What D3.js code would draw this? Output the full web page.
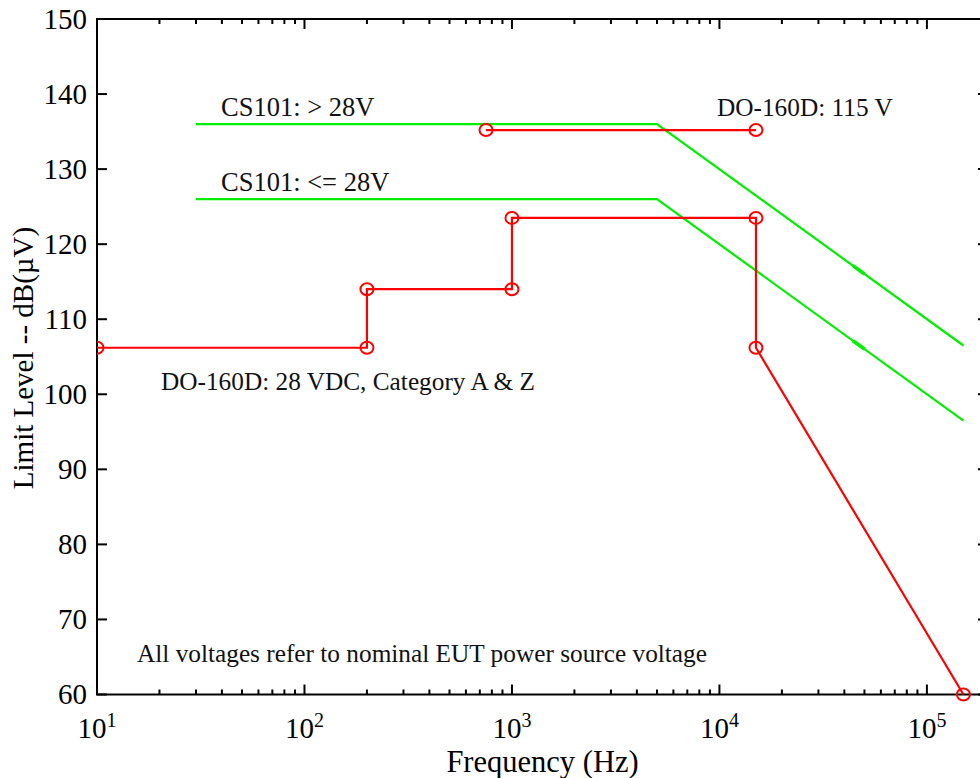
<!DOCTYPE html>
<html>
<head>
<meta charset="utf-8">
<script src="https://cdn.jsdelivr.net/npm/d3@7"></script>
<style>
  body { margin: 0; background: #fff; }
  svg { display: block; font-family: 'Liberation Serif', 'Times New Roman', serif; }
</style>
</head>
<body>
<div id="chart"></div>
<script>
// Limit curves (frequency in Hz, level in dB(uV))
const do28Freq = [10, 200, 200, 1000, 1000, 15000, 15000, 150000];
const do28Level = [106.2, 106.2, 114, 114, 123.5, 123.5, 106.2, 60];
const do115Freq = [750, 15000];
const do115Level = [135.2, 135.2];
const csHighFreq = [30, 5000, 150000];
const csHighLevel = [136, 136, 106.5];
const csLowFreq = [30, 5000, 150000];
const csLowLevel = [126, 126, 96.5];
const xTickExp = [1, 2, 3, 4, 5];
const yTicks = [60, 70, 80, 90, 100, 110, 120, 130, 140, 150];

const width = 980, height = 778;
const margin = { top: 19, right: -8, bottom: 83.5, left: 97 };

const svg = d3.select('#chart').append('svg')
    .attr('width', width)
    .attr('height', height);

// Scales
const xScale = d3.scaleLog()
    .domain([10, 1.97e5])
    .range([margin.left, width - margin.right]);
const yScale = d3.scaleLinear()
    .domain([60, 150])
    .range([height - margin.bottom, margin.top]);

const toPts = (fs, ls) => fs.map((f, i) => [f, ls[i]]);
const line = d3.line()
    .x(d => xScale(d[0]))
    .y(d => yScale(d[1]));

// Axes (frame with inward ticks)
const minorTicks = [];
for (let e = 1; e <= 5; e++) {
    for (let m = 2; m <= 9; m++) minorTicks.push(m * Math.pow(10, e));
}
const x0 = xScale.range()[0], x1 = xScale.range()[1];
const y0 = yScale.range()[0], y1 = yScale.range()[1];

const frame = svg.append('g').attr('stroke', '#000').attr('stroke-width', 2);
frame.append('rect')
    .attr('x', x0).attr('y', y1)
    .attr('width', x1 - x0).attr('height', y0 - y1)
    .attr('fill', 'none');

const xMajor = xTickExp.map(e => Math.pow(10, e));
// bottom & top ticks
[[y0, -1], [y1, 1]].forEach(([yy, dir]) => {
    frame.selectAll(null).data(xMajor).enter().append('line')
        .attr('x1', d => xScale(d)).attr('x2', d => xScale(d))
        .attr('y1', yy).attr('y2', yy + dir * 10);
    frame.selectAll(null).data(minorTicks.filter(d => xScale(d) < x1)).enter().append('line')
        .attr('x1', d => xScale(d)).attr('x2', d => xScale(d))
        .attr('y1', yy).attr('y2', yy + dir * 5);
});
// left & right ticks
[[x0, 1], [x1, -1]].forEach(([xx, dir]) => {
    frame.selectAll(null).data(yTicks).enter().append('line')
        .attr('x1', xx).attr('x2', xx + dir * 10)
        .attr('y1', d => yScale(d)).attr('y2', d => yScale(d));
});

// Tick labels
svg.append('g').selectAll('text')
    .data(yTicks).enter().append('text')
    .attr('x', x0 - 10)
    .attr('y', d => yScale(d))
    .attr('dy', '0.33em')
    .attr('text-anchor', 'end')
    .attr('font-size', 29)
    .text(d => d);

const xl = svg.append('g').selectAll('text')
    .data(xTickExp).enter().append('text')
    .attr('x', d => xScale(Math.pow(10, d)))
    .attr('y', 738)
    .attr('text-anchor', 'middle')
    .attr('font-size', 29);
xl.append('tspan').text('10');
xl.append('tspan').attr('font-size', 20).attr('dy', -11).text(d => d);

// Axis titles
svg.append('text')
    .attr('x', (x0 + x1) / 2)
    .attr('y', 772)
    .attr('text-anchor', 'middle')
    .attr('font-size', 30.5)
    .text('Frequency (Hz)');
svg.append('text')
    .attr('transform', 'translate(33,358) rotate(-90)')
    .attr('text-anchor', 'middle')
    .attr('font-size', 29)
    .text('Limit Level -- dB(\u00b5V)');

// Plot clip
svg.append('defs').append('clipPath').attr('id', 'clip')
    .append('rect').attr('x', x0).attr('y', y1 - 10)
    .attr('width', x1 - x0).attr('height', y0 - y1 + 20);
const plot = svg.append('g').attr('clip-path', 'url(#clip)');

// Green CS101 curves
[toPts(csHighFreq, csHighLevel), toPts(csLowFreq, csLowLevel)].forEach(pts => {
    plot.append('path')
        .datum(pts)
        .attr('d', line)
        .attr('fill', 'none')
        .attr('stroke', '#00ee00')
        .attr('stroke-width', 2.2);
    // small overlap joint on the sloped part
    const seg = pts.slice(1);
    const f0 = 44000, f1 = 50000;
    const lvl = f => seg[0][1] + (seg[1][1] - seg[0][1]) * Math.log10(f / seg[0][0]) / Math.log10(seg[1][0] / seg[0][0]);
    plot.append('path')
        .datum([[f0, lvl(f0)], [f1, lvl(f1)]])
        .attr('d', line)
        .attr('stroke', '#00ee00')
        .attr('stroke-width', 3.6);
});

// Red DO-160D curves
[toPts(do28Freq, do28Level), toPts(do115Freq, do115Level)].forEach(pts => {
    plot.append('path')
        .datum(pts)
        .attr('d', line)
        .attr('fill', 'none')
        .attr('stroke', '#ff0000')
        .attr('stroke-width', 2.2);
    plot.selectAll(null)
        .data(pts).enter().append('ellipse')
        .attr('cx', d => xScale(d[0]))
        .attr('cy', d => yScale(d[1]))
        .attr('rx', 6.5)
        .attr('ry', 6)
        .attr('fill', 'none')
        .attr('stroke', '#ff0000')
        .attr('stroke-width', 2);
});

// Annotations
const notes = svg.append('g').attr('font-size', 25.3).attr('fill', '#111');
notes.append('text').attr('x', 221).attr('y', 116).attr('font-size', 26.5).text('CS101: > 28V');
notes.append('text').attr('x', 221).attr('y', 191).attr('font-size', 26.5).text('CS101: <= 28V');
notes.append('text').attr('x', 717).attr('y', 116).text('DO-160D: 115 V');
notes.append('text').attr('x', 161).attr('y', 390).text('DO-160D: 28 VDC, Category A & Z');
notes.append('text').attr('x', 137).attr('y', 662).text('All voltages refer to nominal EUT power source voltage');
</script>
</body>
</html>
